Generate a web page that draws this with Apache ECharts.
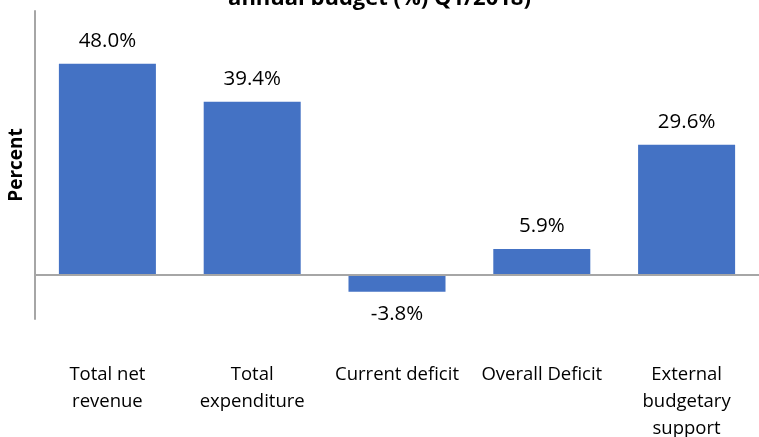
<!DOCTYPE html>
<html>
<head>
<meta charset="utf-8">
<script src="https://cdn.jsdelivr.net/npm/echarts@6/dist/echarts.min.js"></script>
<style>
  html, body { margin: 0; padding: 0; background: #fff; }
  #chart { width: 759px; height: 437px; }
</style>
</head>
<body>
<div id="chart"></div>
<script>
// Budget items, shares in percent
const categories = [
  'Total net\nrevenue',
  'Total\nexpenditure',
  'Current deficit',
  'Overall Deficit',
  'External\nbudgetary\nsupport'
];
const values = [48.0, 39.4, -3.8, 5.9, 29.6];
const titleText = 'annual budget (%) Q1/2018)';
const yAxisName = 'Percent';

const FONT = '"Open Sans", sans-serif';
const chart = echarts.init(document.getElementById('chart'), null, { renderer: 'canvas' });

chart.setOption({
  animation: false,
  title: {
    text: titleText,
    left: 'center',
    top: -17,
    textStyle: { fontFamily: FONT, fontSize: 22, fontWeight: 'bold', color: '#000' }
  },
  grid: { left: 35, right: 0, top: 11, bottom: 118, containLabel: false, outerBoundsMode: 'none' },
  xAxis: {
    type: 'category',
    data: categories,
    axisLine: { show: false, onZero: false },
    axisTick: { show: false },
    axisLabel: {
      margin: 42,
      fontFamily: FONT,
      fontSize: 18.5,
      lineHeight: 27,
      color: '#000',
      interval: 0
    }
  },
  yAxis: {
    type: 'value',
    min: -10,
    max: 60,
    interval: 10,
    name: yAxisName,
    nameLocation: 'middle',
    nameGap: 9,
    nameTextStyle: { fontFamily: FONT, fontSize: 19, fontWeight: 'bold', color: '#000' },
    axisLine: { show: true, lineStyle: { color: '#a6a6a6', width: 2 } },
    axisTick: { show: false },
    axisLabel: { show: false },
    splitLine: { show: false }
  },
  series: [{
    type: 'bar',
    data: values,
    barWidth: '67%',
    itemStyle: { color: '#4472C4' },
    label: {
      show: true,
      position: 'outside',
      distance: 12,
      fontFamily: FONT,
      fontSize: 20.5,
      color: '#000',
      formatter: p => p.value.toFixed(1) + '%'
    },
    markLine: {
      silent: true,
      symbol: 'none',
      label: { show: false },
      lineStyle: { color: '#a6a6a6', width: 2, type: 'solid' },
      data: [{ yAxis: 0 }]
    }
  }]
});
</script>
</body>
</html>
